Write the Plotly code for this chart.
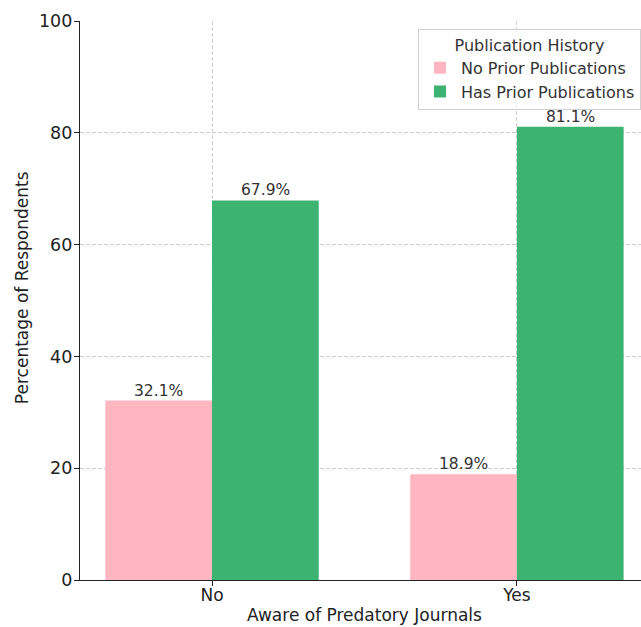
import plotly.graph_objects as go

categories = ["No", "Yes"]
no_prior = [32.1, 18.9]
has_prior = [67.9, 81.1]
series_names = ["No Prior Publications", "Has Prior Publications"]
y_ticks = [0, 20, 40, 60, 80, 100]
x_title = "Aware of Predatory Journals"
y_title = "Percentage of Respondents"
legend_title = "Publication History"

FONT = "DejaVu Sans"
xpos = list(range(len(categories)))
w = 0.35

fig = go.Figure()
fig.add_trace(go.Bar(x=[p - w / 2 for p in xpos], y=no_prior, width=w,
                     name=series_names[0], marker_color="#FFB6C1",
                     marker_line_width=0))
fig.add_trace(go.Bar(x=[p + w / 2 for p in xpos], y=has_prior, width=w,
                     name=series_names[1], marker_color="#3CB371",
                     marker_line_width=0))

for vals, off in ((no_prior, -w / 2), (has_prior, w / 2)):
    for p, v in zip(xpos, vals):
        fig.add_annotation(x=p + off, y=v, text=f"{v:.1f}%", showarrow=False,
                           yanchor="bottom", yshift=-1,
                           font=dict(family=FONT, size=15.5, color="#333333"))

# axis titles
fig.add_annotation(x=0.5, xref="x", y=0, yref="paper", text=x_title,
                   showarrow=False, yanchor="middle", yshift=-35,
                   font=dict(family=FONT, size=17, color="#222222"))
fig.add_annotation(x=0, xref="paper", y=0.523, yref="paper", text=y_title,
                   showarrow=False, textangle=-90, xanchor="center",
                   xshift=-58.5, font=dict(family=FONT, size=17, color="#222222"))

grid = "rgba(180,180,180,0.65)"
fig.update_layout(
    width=641, height=627,
    margin=dict(l=80, r=0, t=21, b=47),
    paper_bgcolor="white", plot_bgcolor="white",
    font=dict(family=FONT, size=17, color="#222222"),
    barmode="overlay",
    showlegend=True,
    hovermode=False,
    legend=dict(
        x=1.0, xanchor="right", y=0.9857, yanchor="top",
        bgcolor="rgba(255,255,255,0.85)", bordercolor="#d0d0d0", borderwidth=1,
        font=dict(family=FONT, size=16, color="#333333"),
        title=dict(text=legend_title, side="top center",
                   font=dict(family=FONT, size=16, color="#333333")),
        tracegroupgap=0, itemwidth=32,
    ),
    xaxis=dict(
        range=[-0.433, 1.407], tickvals=xpos, ticktext=categories,
        showgrid=True, gridcolor=grid, griddash="4px,2px", gridwidth=1,
        showline=True, linecolor="#222222", linewidth=1.3,
        ticks="outside", ticklen=5, tickcolor="#222222",
        zeroline=False, tickfont=dict(family=FONT, size=17),
        ticklabelstandoff=-6,
        automargin=False, layer="above traces",
    ),
    yaxis=dict(
        range=[0, 100], tickvals=y_ticks,
        showgrid=True, gridcolor=grid, griddash="4px,2px", gridwidth=1,
        showline=True, linecolor="#222222", linewidth=1.3,
        ticks="outside", ticklen=5, tickcolor="#222222",
        zeroline=False, tickfont=dict(family=FONT, size=17.5),
        ticklabelstandoff=-2,
        automargin=False, layer="above traces",
    ),
)

fig.write_html("out.html", config={"displayModeBar": False},
               post_script="document.body.style.margin='0';document.body.style.overflow='hidden';")
